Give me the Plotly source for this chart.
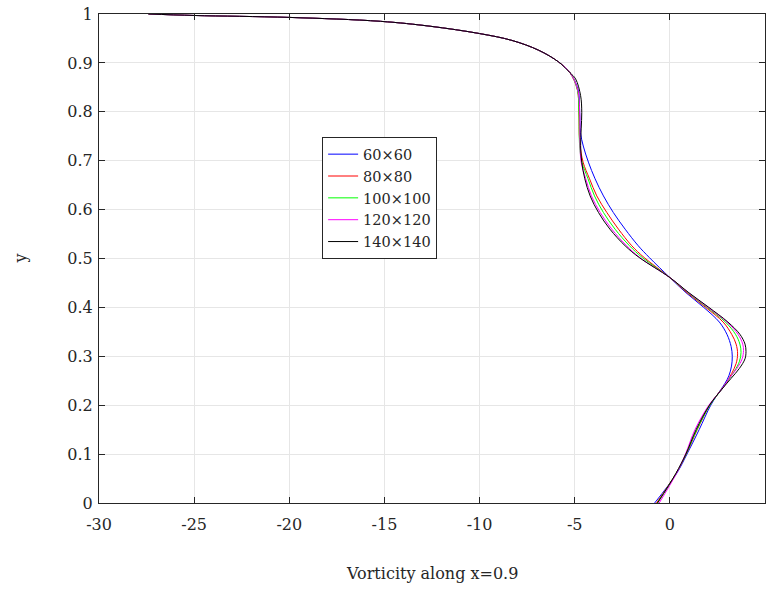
import plotly.graph_objects as go

# ---- data (y descending) ----
top_y = [1.000, 0.997, 0.993, 0.985, 0.975, 0.960, 0.946, 0.926, 0.902, 0.880]
top_x = [-27.4, -25.0, -20.0, -15.2, -12.6, -10.0, -8.3, -6.9, -5.85, -5.25]

names = ["60×60", "80×80", "100×100", "120×120", "140×140"]
colors = ["#0000ff", "#ff0000", "#00ff00", "#ff00ff", "#000000"]

y_60 = [0.845, 0.80, 0.758, 0.73, 0.697, 0.663, 0.628, 0.594, 0.560, 0.526, 0.502, 0.461,
        0.43, 0.40, 0.37, 0.345, 0.32, 0.300, 0.280, 0.260, 0.245, 0.232, 0.20, 0.15, 0.10, 0.06, 0.0]
x_60 = [-4.82, -4.74, -4.70, -4.55, -4.28, -3.93, -3.49, -2.97, -2.35, -1.66, -1.08, 0.0,
        0.85, 1.78, 2.60, 3.00, 3.22, 3.28, 3.24, 3.10, 2.90, 2.68, 2.15, 1.54, 0.90, 0.35, -0.80]

y_80 = [0.845, 0.80, 0.74, 0.697, 0.663, 0.628, 0.594, 0.560, 0.526, 0.502, 0.461,
        0.43, 0.40, 0.37, 0.345, 0.325, 0.305, 0.285, 0.265, 0.245, 0.232, 0.20, 0.15, 0.10, 0.06, 0.0]
x_80 = [-4.86, -4.78, -4.74, -4.56, -4.22, -3.84, -3.31, -2.70, -2.00, -1.35, 0.0,
        0.90, 1.88, 2.80, 3.25, 3.48, 3.56, 3.48, 3.25, 2.95, 2.70, 2.10, 1.44, 0.86, 0.32, -0.70]

y_100 = [0.845, 0.80, 0.73, 0.697, 0.663, 0.628, 0.594, 0.560, 0.526, 0.502, 0.461,
         0.43, 0.40, 0.37, 0.345, 0.325, 0.308, 0.290, 0.270, 0.250, 0.232, 0.20, 0.15, 0.10, 0.06, 0.0]
x_100 = [-4.86, -4.78, -4.74, -4.62, -4.30, -3.96, -3.49, -2.88, -2.12, -1.45, 0.0,
         0.95, 1.95, 2.92, 3.45, 3.68, 3.74, 3.66, 3.40, 3.05, 2.72, 2.10, 1.42, 0.85, 0.32, -0.65]

y_120 = [0.845, 0.80, 0.73, 0.697, 0.663, 0.628, 0.594, 0.560, 0.526, 0.502, 0.461,
         0.43, 0.40, 0.37, 0.345, 0.325, 0.312, 0.295, 0.275, 0.255, 0.232, 0.20, 0.15, 0.10, 0.06, 0.0]
x_120 = [-4.84, -4.74, -4.72, -4.66, -4.42, -4.12, -3.66, -3.05, -2.27, -1.58, 0.0,
         0.98, 2.00, 3.00, 3.58, 3.83, 3.87, 3.80, 3.52, 3.12, 2.72, 2.05, 1.32, 0.82, 0.34, -0.56]

y_140 = [0.867, 0.833, 0.799, 0.765, 0.731, 0.697, 0.663, 0.628, 0.594, 0.560, 0.526, 0.502, 0.461,
         0.43, 0.40, 0.37, 0.345, 0.325, 0.310, 0.295, 0.275, 0.255, 0.232, 0.20, 0.15, 0.10, 0.06, 0.0]
x_140 = [-4.95, -4.69, -4.63, -4.66, -4.69, -4.63, -4.47, -4.19, -3.75, -3.15, -2.35, -1.61, 0.0,
         1.00, 2.05, 3.05, 3.68, 3.95, 4.00, 3.95, 3.65, 3.22, 2.72, 2.08, 1.38, 0.84, 0.31, -0.65]

series_x = [x_60, x_80, x_100, x_120, x_140]
series_y = [y_60, y_80, y_100, y_120, y_140]

x_ticks = [-30, -25, -20, -15, -10, -5, 0, 5]
y_ticks = [0, 0.1, 0.2, 0.3, 0.4, 0.5, 0.6, 0.7, 0.8, 0.9, 1]
y_tick_text = ["0", "0.1", "0.2", "0.3", "0.4", "0.5", "0.6", "0.7", "0.8", "0.9", "1"]

FONT = "DejaVu Serif"
AXC = "#262626"

fig = go.Figure()
for nm, c, xs, ys in zip(names, colors, series_x, series_y):
    fig.add_trace(go.Scatter(
        x=top_x + xs, y=top_y + ys, mode="lines", name=nm,
        line=dict(color=c, width=1, shape="spline", smoothing=1.0),
    ))

axis_common = dict(
    showline=True, linecolor=AXC, linewidth=1, mirror="ticks",
    ticks="inside", ticklen=6, tickcolor=AXC,
    showgrid=True, gridcolor="#e6e6e6", gridwidth=1,
    zeroline=False, tickfont=dict(family=FONT, size=16, color=AXC),
)

fig.update_layout(
    width=769, height=589,
    margin=dict(l=99, r=4, t=14, b=86),
    paper_bgcolor="white", plot_bgcolor="white",
    xaxis=dict(range=[-30, 5], tickvals=x_ticks, ticktext=[str(v) for v in x_ticks],
               ticklabelstandoff=7, **axis_common),
    yaxis=dict(range=[0, 1], tickvals=y_ticks, ticktext=y_tick_text,
               ticklabelstandoff=2, **axis_common),
    showlegend=True,
    legend=dict(
        x=0.335, y=0.748, xanchor="left", yanchor="top",
        bgcolor="white", bordercolor=AXC, borderwidth=1,
        font=dict(family=FONT, size=14.5, color=AXC),
        tracegroupgap=0, itemwidth=30,
    ),
    annotations=[
        dict(text="Vorticity along x=0.9", xref="paper", yref="paper", x=0.5, y=0,
             xanchor="center", yanchor="middle", yshift=-70, showarrow=False,
             font=dict(family=FONT, size=16, color=AXC)),
        dict(text="y", xref="paper", yref="paper", x=0, y=0.5, textangle=-90,
             xanchor="center", yanchor="middle", xshift=-79, showarrow=False,
             font=dict(family=FONT, size=16, color=AXC)),
    ],
)

fig.write_html("out.html")
